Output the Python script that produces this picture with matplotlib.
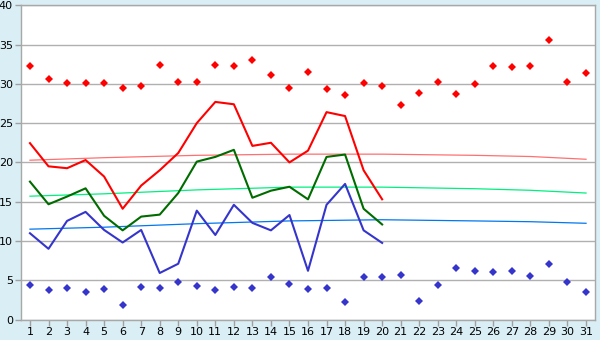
import numpy as np
import matplotlib
matplotlib.use("Agg")
import matplotlib.pyplot as plt

days = list(range(1, 32))

# daily extremes (diamonds)
max_pts = [32.25, 30.6, 30.1, 30.1, 30.1, 29.45, 29.7, 32.4, 30.2, 30.2,
           32.4, 32.25, 33.0, 31.1, 29.45, 31.5, 29.3, 28.55, 30.1, 29.7,
           27.3, 28.8, 30.2, 28.7, 29.95, 32.25, 32.1, 32.25, 35.55, 30.2, 31.35]
min_pts = [4.36, 3.72, 3.97, 3.46, 3.85, 1.81, 4.1, 3.97, 4.74, 4.23,
           3.72, 4.1, 3.97, 5.37, 4.48, 3.85, 3.97, 2.19, 5.37, 5.37,
           5.63, 2.32, 4.36, 6.52, 6.14, 6.01, 6.14, 5.5, 7.03, 4.74, 3.46]

# lines, days 1..20
line_days = list(range(1, 21))
red_line = [22.45, 19.5, 19.26, 20.3, 18.2, 14.1, 17.05, 19.0, 21.2, 25.0,
            27.7, 27.4, 22.1, 22.5, 20.0, 21.5, 26.4, 25.9, 19.0, 15.3]
green_line = [17.55, 14.67, 15.65, 16.7, 13.2, 11.35, 13.1, 13.35, 16.1, 20.1,
              20.7, 21.6, 15.5, 16.4, 16.9, 15.3, 20.7, 21.0, 14.1, 12.1]
blue_line = [10.98, 9.0, 12.55, 13.7, 11.4, 9.8, 11.4, 5.92, 7.1, 13.86,
             10.76, 14.6, 12.3, 11.35, 13.3, 6.2, 14.6, 17.26, 11.35, 9.75]

# trend curves read at a few days
trend_days = [1, 5, 10, 15, 20, 25, 28, 31]
red_trend = [20.28, 20.6, 20.9, 21.05, 21.05, 20.9, 20.75, 20.4]
green_trend = [15.7, 16.0, 16.5, 16.85, 16.85, 16.65, 16.45, 16.1]
blue_trend = [11.5, 11.75, 12.2, 12.55, 12.7, 12.55, 12.45, 12.25]

yticks = [0, 5, 10, 15, 20, 25, 30, 35, 40]

bg = "#d9eef5"
fig = plt.figure(figsize=(6, 3.4), dpi=100, facecolor=bg)
ax = fig.add_axes([20.7 / 600, 1 - 319.5 / 340, (595.3 - 20.7) / 600, (319.5 - 5.3) / 340])
ax.set_facecolor("white")

ax.plot(trend_days, red_trend, color="#ff7070", lw=0.9, zorder=2)
ax.plot(trend_days, green_trend, color="#00f080", lw=0.9, zorder=2)
ax.plot(trend_days, blue_trend, color="#0078f0", lw=0.9, zorder=2)

ax.plot(line_days, red_line, color="#ff0000", lw=1.5, zorder=3)
ax.plot(line_days, green_line, color="#006c00", lw=1.5, zorder=3)
ax.plot(line_days, blue_line, color="#3535cc", lw=1.5, zorder=3)

ax.plot(days, max_pts, ls="none", marker="D", ms=4.2, color="#ff0000", mew=0, zorder=4)
ax.plot(days, min_pts, ls="none", marker="D", ms=4.2, color="#3535cc", mew=0, zorder=4)

ax.set_xlim(0.5, 31.5)
ax.set_ylim(0, 40)
ax.set_xticks(days)
ax.set_xticklabels([str(d) for d in days])
ax.set_yticks(yticks)
ax.yaxis.grid(True, color="#b0b0b0", lw=1.0)
ax.set_axisbelow(True)
ax.tick_params(axis="both", length=4, width=1, color="#a0a0a0", labelsize=8,
               labelcolor="black", pad=1.5)

for s in ["left", "bottom", "right", "top"]:
    ax.spines[s].set_color("#a8a8a8")
    ax.spines[s].set_linewidth(1.0)

fig.savefig("out.png", dpi=100, facecolor=bg)
